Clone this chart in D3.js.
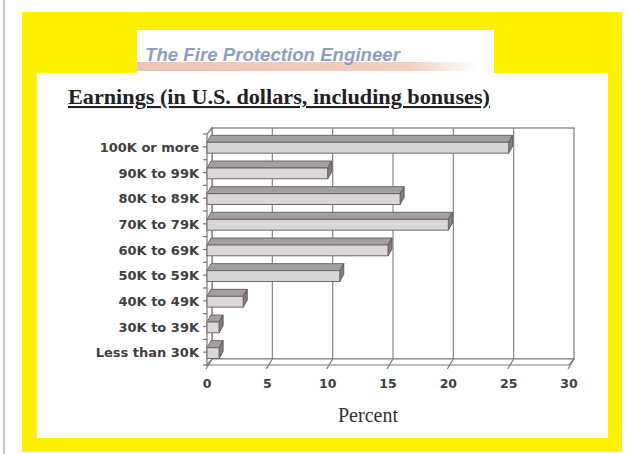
<!DOCTYPE html>
<html><head><meta charset="utf-8">
<script src="https://cdn.jsdelivr.net/npm/d3@7"></script>
<style>html,body{margin:0;padding:0;background:#fff;}svg{display:block;}</style>
</head><body>
<script>
const categories = ["100K or more","90K to 99K","80K to 89K","70K to 79K","60K to 69K","50K to 59K","40K to 49K","30K to 39K","Less than 30K"];
const percentValues = [25,10,16,20,15,11,3,1,1];
const xTicks = [0,5,10,15,20,25,30];
const titleText = "Earnings (in U.S. dollars, including bonuses)";
const bannerText = "The Fire Protection Engineer";
const xAxisTitle = "Percent";

const W = 631, H = 454;
const svg = d3.select("body").append("svg").attr("width", W).attr("height", H);
const defs = svg.append("defs");
const grad = defs.append("linearGradient").attr("id","stripe").attr("x1","0").attr("x2","1");
grad.append("stop").attr("offset","0").attr("stop-color","#efc4b2");
grad.append("stop").attr("offset","0.8").attr("stop-color","#f3cfc0");
grad.append("stop").attr("offset","1").attr("stop-color","#ffffff");

// page border & frames
svg.append("line").attr("x1",4).attr("x2",4).attr("y1",0).attr("y2",H).attr("stroke","#8a8a8a").attr("stroke-width",1);
svg.append("rect").attr("x",22).attr("y",12).attr("width",600).attr("height",440).attr("fill","#fff200");
svg.append("rect").attr("x",137).attr("y",30).attr("width",357).attr("height",50).attr("fill","#fff");
svg.append("rect").attr("x",37).attr("y",73).attr("width",571).attr("height",365).attr("fill","#fff");
svg.append("rect").attr("x",137).attr("y",62).attr("width",340).attr("height",9).attr("fill","url(#stripe)");
svg.append("text").attr("x",145).attr("y",61).text(bannerText)
  .attr("font-family","Liberation Sans, Arial, sans-serif").attr("font-weight","bold").attr("font-style","italic")
  .attr("font-size",18).attr("fill","#8e9fbd").attr("textLength",255).attr("lengthAdjust","spacingAndGlyphs");

svg.append("text").attr("x",68).attr("y",104).text(titleText)
  .attr("font-family","Liberation Serif, Times New Roman, serif").attr("font-weight","bold")
  .attr("font-size",21).attr("fill","#222").attr("text-decoration","underline")
  .attr("textLength",422).attr("lengthAdjust","spacingAndGlyphs");

// chart geometry
const x = d3.scaleLinear().domain([0,30]).range([207,569]);
const y = d3.scaleBand().domain(categories).range([134,365]).padding(0);
const DX = 5, DY = 6;      // wall depth
const BDX = 4, BDY = 7;    // bar depth
const yTop = y.range()[0], yBot = y.range()[1];
const g = svg.append("g");
const wallStroke = "#7d7878";

// back wall
g.append("rect").attr("x",x(0)+DX).attr("y",yTop-DY).attr("width",x(30)-x(0)).attr("height",yBot-yTop)
  .attr("fill","#fff").attr("stroke",wallStroke).attr("stroke-width",1.2);
g.selectAll("line.grid").data(xTicks.slice(1,-1)).join("line").attr("class","grid")
  .attr("x1",d=>x(d)+DX).attr("x2",d=>x(d)+DX).attr("y1",yTop-DY).attr("y2",yBot-DY)
  .attr("stroke","#8a8585").attr("stroke-width",1.2);
// floor
g.append("path").attr("d",`M${x(0)},${yBot}L${x(30)},${yBot}L${x(30)+DX},${yBot-DY}L${x(0)+DX},${yBot-DY}Z`)
  .attr("fill","#fff").attr("stroke",wallStroke).attr("stroke-width",1.2);
g.selectAll("line.floor").data(xTicks).join("line").attr("class","floor")
  .attr("x1",d=>x(d)+DX).attr("y1",yBot-DY).attr("x2",d=>x(d)-1).attr("y2",yBot+4)
  .attr("stroke",wallStroke).attr("stroke-width",1.2);
// left wall
g.append("path").attr("d",`M${x(0)},${yBot}L${x(0)},${yTop}L${x(0)+DX},${yTop-DY}L${x(0)+DX},${yBot-DY}Z`)
  .attr("fill","#fff").attr("stroke",wallStroke).attr("stroke-width",1.2);
const yTickPos = d3.range(categories.length+1).map(i=>yTop+i*y.bandwidth())
  .concat(categories.map(c=>y(c)+y.bandwidth()/2));
g.selectAll("line.yt").data(yTickPos).join("line").attr("class","yt")
  .attr("x1",x(0)-4).attr("x2",x(0)).attr("y1",d=>d).attr("y2",d=>d)
  .attr("stroke",wallStroke).attr("stroke-width",1.2);

// bars
const bars = g.selectAll("g.bar").data(categories.map((c,i)=>({c,v:percentValues[i]}))).join("g").attr("class","bar");
const fy0 = d => y(d.c)+y.bandwidth()/2-4.5;
const fy1 = d => y(d.c)+y.bandwidth()/2+6.3;
bars.append("path").attr("d",d=>`M${x(0)},${fy0(d)}L${x(0)+BDX},${fy0(d)-BDY}L${x(d.v)+BDX},${fy0(d)-BDY}L${x(d.v)},${fy0(d)}Z`)
  .attr("fill","#a59e9e").attr("stroke","#6e6868").attr("stroke-width",1);
bars.append("path").attr("d",d=>`M${x(d.v)},${fy0(d)}L${x(d.v)+BDX},${fy0(d)-BDY}L${x(d.v)+BDX},${fy1(d)-BDY}L${x(d.v)},${fy1(d)}Z`)
  .attr("fill","#857e7e").attr("stroke","#5e5858").attr("stroke-width",1);
bars.append("rect").attr("x",x(0)).attr("y",fy0).attr("width",d=>x(d.v)-x(0)).attr("height",d=>fy1(d)-fy0(d))
  .attr("fill","#ddd6d6").attr("stroke","#6e6868").attr("stroke-width",1);

// labels
const sans = "DejaVu Sans, Verdana, sans-serif";
g.selectAll("text.cat").data(categories).join("text").attr("class","cat")
  .attr("x",199).attr("y",d=>y(d)+y.bandwidth()/2+5).attr("text-anchor","end")
  .attr("font-family",sans).attr("font-weight","bold").attr("font-size",13).attr("fill","#404040").text(d=>d);
g.selectAll("text.xt").data(xTicks).join("text").attr("class","xt")
  .attr("x",d=>x(d)).attr("y",388).attr("text-anchor","middle")
  .attr("font-family",sans).attr("font-weight","bold").attr("font-size",12.5).attr("fill","#404040").text(d=>d);
svg.append("text").attr("x",368).attr("y",422).attr("text-anchor","middle").text(xAxisTitle)
  .attr("font-family","Liberation Serif, Times New Roman, serif").attr("font-size",20).attr("fill","#333");
</script>
</body></html>
